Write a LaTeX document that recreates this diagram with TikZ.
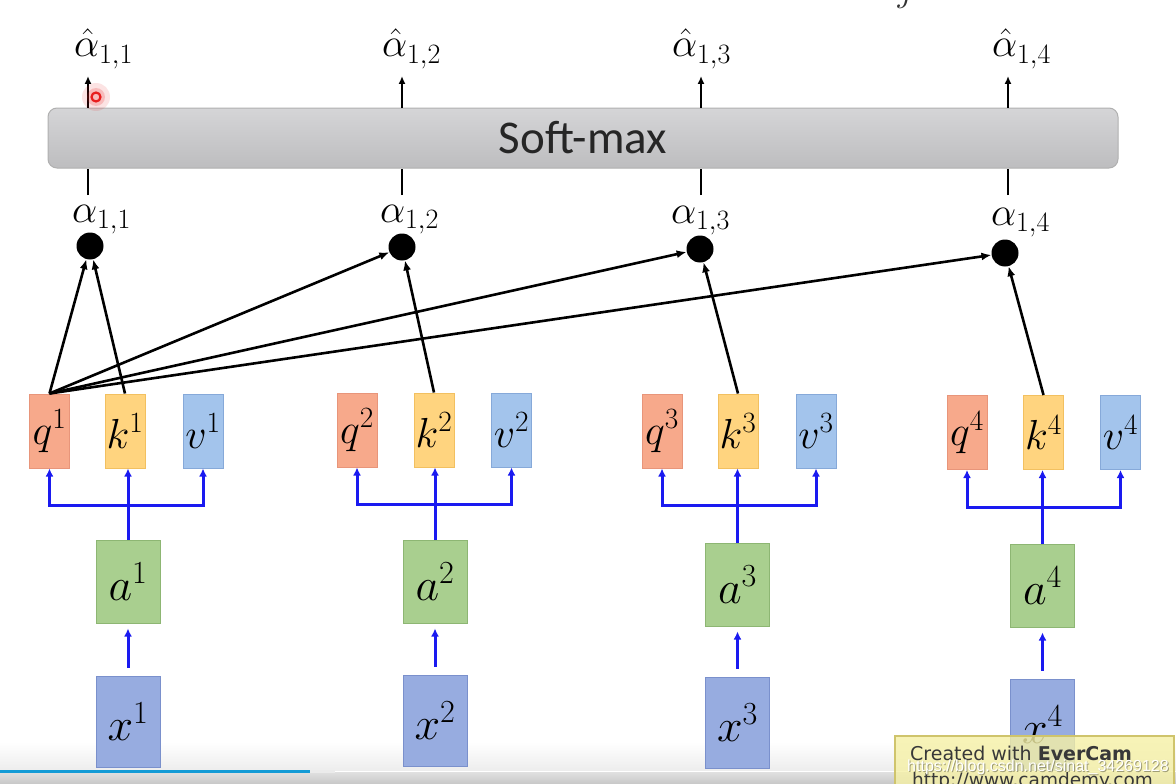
\documentclass[tikz,border=0pt]{standalone}
\usepackage{fix-cm}
\usepackage{fontspec}
\newfontfamily\smfont{Carlito}
\newfontfamily\wmfont{DejaVu Sans}
\newfontfamily\csdnfont{Liberation Sans}
\usetikzlibrary{arrows.meta}
\definecolor{qfill}{HTML}{F7A98B}
\definecolor{qdraw}{HTML}{E8957A}
\definecolor{kfill}{HTML}{FFD47F}
\definecolor{kdraw}{HTML}{F2C060}
\definecolor{vfill}{HTML}{A3C4EC}
\definecolor{vdraw}{HTML}{86A9D9}
\definecolor{afill}{HTML}{A9CF8F}
\definecolor{adraw}{HTML}{8DB673}
\definecolor{xfill}{HTML}{97ACE0}
\definecolor{xdraw}{HTML}{7A90CC}
\definecolor{arrblue}{HTML}{1A1AF0}
\definecolor{smtop}{HTML}{D5D5D7}
\definecolor{smbot}{HTML}{BDBDBF}
\definecolor{smdraw}{HTML}{B0B0B0}
\definecolor{prog}{HTML}{139BD6}
\definecolor{wmfill}{HTML}{F5F0A5}
\definecolor{wmdraw}{HTML}{CFC46C}
\definecolor{cursorred}{HTML}{E81E1E}
\begin{document}
\begin{tikzpicture}[x=1pt,y=-1pt,
  base/.style={rectangle,inner sep=0pt,line width=1pt,text=black},
  qbox/.style={base,draw=qdraw,fill=qfill,minimum width=40pt,minimum height=74pt,font=\fontsize{42}{44}\selectfont},
  kbox/.style={base,draw=kdraw,fill=kfill,minimum width=40pt,minimum height=74pt,font=\fontsize{42}{44}\selectfont},
  vbox/.style={base,draw=vdraw,fill=vfill,minimum width=40pt,minimum height=74pt,font=\fontsize{42}{44}\selectfont},
  abox/.style={base,draw=adraw,fill=afill,minimum width=64pt,minimum height=83pt,font=\fontsize{46}{48}\selectfont},
  xbox/.style={base,draw=xdraw,fill=xfill,minimum width=64pt,minimum height=91pt,font=\fontsize{46}{48}\selectfont},
  smbox/.style={rectangle,rounded corners=9pt,minimum width=1070pt,minimum height=60pt,top color=smtop,bottom color=smbot,draw=smdraw,line width=1pt,font=\smfont\fontsize{47}{50}\selectfont,text=black!85},
  lbl/.style={inner sep=0pt,anchor=base west,font=\fontsize{40}{44}\selectfont,text=black},
  dot/.style={circle,fill=black,minimum size=27pt,inner sep=0pt},
  barr/.style={-{Latex[length=10pt,width=8pt]},line width=2.6pt},
  tarr/.style={-{Latex[length=8pt,width=7pt]},line width=2pt},
  blu/.style={draw=arrblue,line width=3pt},
  bluarr/.style={blu,-{Latex[length=8pt,width=8pt]}}
]
\useasboundingbox (0,0) rectangle (1176,784);
\clip (0,0) rectangle (1176,784);
\fill[white] (0,0) rectangle (1176,784);
% video bottom bar
\shade[top color=white,bottom color=black!7] (0,742) rectangle (1176,770);
\shade[top color=black!12,bottom color=black!22] (0,772) rectangle (1176,784);
\fill[black!8] (310,769.5) rectangle (335,772.5);
\fill[prog] (0,769.5) rectangle (310,772.5);
% cut title fragment
\node[inner sep=0pt,anchor=base,font=\fontsize{36}{40}\selectfont,text=black!80] (frag) at (906,2) {$j$};
% softmax
\node[smbox] (sm) at (583,138) {Soft-max};
\foreach \j/\lx in {1/88,2/402,3/701,4/1008}{
  \coordinate (lo\j) at (\lx,195);
  \coordinate (hi\j) at (\lx,76);
  \draw[line width=2.4pt] (lo\j) -- (lo\j |- sm.south);
  \draw[tarr] (hi\j |- sm.north) -- (hi\j);
}
% labels
\node[lbl] (ah1) at (74,57) {$\hat{\alpha}_{1,1}$};
\node[lbl] (ah2) at (382,57) {$\hat{\alpha}_{1,2}$};
\node[lbl] (ah3) at (672,57) {$\hat{\alpha}_{1,3}$};
\node[lbl] (ah4) at (992,57) {$\hat{\alpha}_{1,4}$};
\node[lbl] (al1) at (72,222) {$\alpha_{1,1}$};
\node[lbl] (al2) at (380,222) {$\alpha_{1,2}$};
\node[lbl] (al3) at (671,223) {$\alpha_{1,3}$};
\node[lbl] (al4) at (991,225) {$\alpha_{1,4}$};
% groups
\foreach \i/\qx/\kx/\vx/\ry/\by/\ax/\ay/\xy in {1/49.5/125/203/431/505/128/581.5/721.5, 2/357/434/511.5/430/504/435/581.5/720.5, 3/662/738/816/431/505/737.5/584.5/722.5, 4/967/1043.5/1120.5/432.5/507/1042.5/585.5/724.5}{
  \node[qbox] (q\i) at (\qx,\ry) {$q^{\i}$};
  \node[kbox] (k\i) at (\kx,\ry) {$k^{\i}$};
  \node[vbox] (v\i) at (\vx,\ry) {$v^{\i}$};
  \node[abox] (a\i) at (\ax,\ay) {$a^{\i}$};
  \node[xbox] (x\i) at (\ax,\xy) {$x^{\i}$};
  \coordinate (b\i) at (\ax,\by);
  \draw[blu] (a\i.north) -- (b\i);
  \draw[bluarr] (b\i) -| (q\i.south);
  \draw[bluarr] (b\i) -| (v\i.south);
  \draw[bluarr] (b\i) -- (b\i |- k\i.south);
  \draw[bluarr,shorten <=8pt,shorten >=5pt] (x\i.north) -- (a\i.south);
}
% dots
\node[dot] (d1) at (90,246) {};
\node[dot] (d2) at (402,247) {};
\node[dot] (d3) at (700,249) {};
\node[dot] (d4) at (1005,253) {};
\foreach \j in {1,...,4}{
  \draw[barr] (q1.north) -- (d\j);
  \draw[barr] (k\j.north) -- (d\j);
}
% watermark
\fill[wmfill,fill opacity=0.8] (895,736) rectangle (1174,800);
\draw[wmdraw,line width=1.5pt] (895,800) -- (895,736) -- (1174,736) -- (1174,800);
\node[inner sep=0pt,anchor=base west,font=\wmfont\fontsize{19}{21}\selectfont,text=black!78] (wm1) at (910,760) {Created with \textbf{EverCam}};
\node[inner sep=0pt,anchor=base west,font=\wmfont\fontsize{18.5}{20}\selectfont,text=black!78] (wm2) at (912,786) {http://www.camdemy.com};
\node[inner sep=0pt,anchor=base west,font=\csdnfont\fontsize{16}{18}\selectfont,text=black,text opacity=0.35] (cs0) at (908,772) {https://blog.csdn.net/sinat\_34269128};
\node[inner sep=0pt,anchor=base west,font=\csdnfont\fontsize{16}{18}\selectfont,text=white] (cs) at (907,771) {https://blog.csdn.net/sinat\_34269128};
% cursor
\fill[cursorred,opacity=0.12] (96,97) circle[radius=14pt];
\fill[cursorred,opacity=0.2] (96,97) circle[radius=9pt];
\draw[cursorred,line width=2.2pt] (96,97) circle[radius=4.5pt];
\end{tikzpicture}
\end{document}
